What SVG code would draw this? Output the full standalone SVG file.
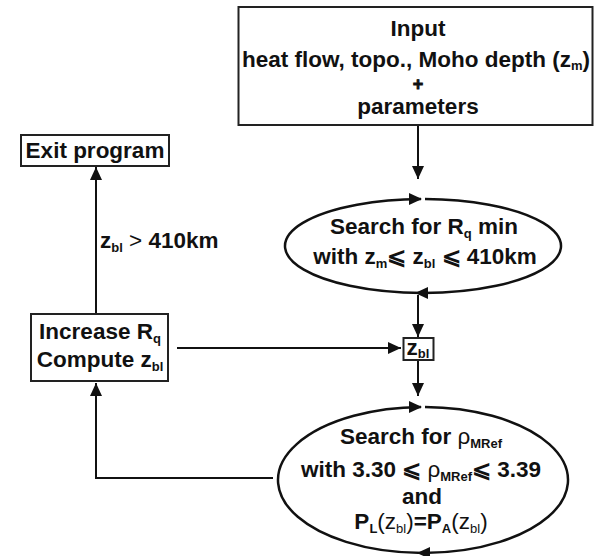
<svg xmlns="http://www.w3.org/2000/svg" width="600" height="556" viewBox="0 0 600 556">
<defs>
<style>
.t{font-family:"Liberation Sans",Arial,sans-serif;font-weight:bold;font-size:22.5px;fill:#111;text-anchor:middle}
.s{font-size:13px}
.n{font-weight:normal}
.box{fill:#fff;stroke:#222;stroke-width:2}
.ell{fill:none;stroke:#111;stroke-width:2.5}
.c{fill:none;stroke:#111;stroke-width:2}
.ah{fill:#111}
</style>
<marker id="arr" markerUnits="userSpaceOnUse" markerWidth="13" markerHeight="12" refX="13" refY="6" orient="auto">
<path d="M0,0 L13,6 L0,12 z" fill="#111"/>
</marker>
</defs>
<rect width="600" height="556" fill="#fff"/>

<g id="connectors">
<line class="c" x1="418" y1="125" x2="418" y2="179" marker-end="url(#arr)"/>
<line class="c" x1="418" y1="295" x2="418" y2="337" marker-end="url(#arr)"/>
<line class="c" x1="418" y1="361" x2="418" y2="396" marker-end="url(#arr)"/>
<line class="c" x1="177" y1="348" x2="401" y2="348" marker-end="url(#arr)"/>
<polyline class="c" points="273,478 96,478 96,383" marker-end="url(#arr)"/>
<line class="c" x1="96" y1="314" x2="96" y2="167" marker-end="url(#arr)"/>
<text class="t" x="100" y="248" style="text-anchor:start">z<tspan class="s" dy="4">bl</tspan><tspan class="n" dy="-4"> &gt; </tspan>410km</text>
</g>

<g id="input">
<rect class="box" x="238.5" y="7" width="354" height="118"/>
<text class="t" x="418" y="36">Input</text>
<text class="t" x="416" y="67">heat flow, topo., Moho depth (z<tspan class="s" dy="3">m</tspan><tspan dy="-3">)</tspan></text>
<text class="t" x="418" y="89.5" style="font-size:18px;stroke:#111;stroke-width:0.8">+</text>
<text class="t" x="418" y="114">parameters</text>
</g>

<g id="search-rq">
<path class="ell" d="M425,199 A138,47 0 1 1 421,199"/>
<polygon class="ah" points="409,193 422,199 409,205"/>
<polygon class="ah" points="428,287 415,293 428,299"/>
<text class="t" x="424" y="234">Search for R<tspan class="s" dy="4">q</tspan><tspan dy="-4"> min</tspan></text>
<text class="t" x="425" y="264">with z<tspan class="s" dy="4">m</tspan><tspan dy="-4">⩽ z</tspan><tspan class="s" dy="4">bl</tspan><tspan dy="-4"> ⩽ 410km</tspan></text>
</g>

<g id="zbl">
<rect class="box" x="403.5" y="338" width="30" height="22" stroke-width="1.5"/>
<text class="t" x="418" y="355">z<tspan class="s" dy="3">bl</tspan></text>
</g>

<g id="search-rho">
<path class="ell" d="M425,407 A145,73 0 1 1 421,407"/>
<polygon class="ah" points="409,401 422,407 409,413"/>
<polygon class="ah" points="430,547 417,553 430,559"/>
<text class="t" x="421" y="444">Search for <tspan class="n">ρ</tspan><tspan class="s" dy="4">MRef</tspan></text>
<text class="t" x="421" y="477">with 3.30 ⩽ <tspan class="n">ρ</tspan><tspan class="s" dy="4">MRef</tspan><tspan dy="-4">⩽ 3.39</tspan></text>
<text class="t" x="422" y="504">and</text>
<text class="t" x="421" y="529">P<tspan class="s" dy="4">L</tspan><tspan class="n" dy="-4">(z</tspan><tspan class="s n" dy="4">bl</tspan><tspan class="n" dy="-4">)</tspan>=P<tspan class="s" dy="4">A</tspan><tspan class="n" dy="-4">(z</tspan><tspan class="s n" dy="4">bl</tspan><tspan class="n" dy="-4">)</tspan></text>
</g>

<g id="increase">
<rect class="box" x="31" y="314" width="137" height="67"/>
<text class="t" x="100" y="339">Increase R<tspan class="s" dy="4">q</tspan></text>
<text class="t" x="100" y="367">Compute z<tspan class="s" dy="4">bl</tspan></text>
</g>

<g id="exit">
<rect class="box" x="21" y="135" width="148" height="31"/>
<text class="t" x="95" y="158">Exit program</text>
</g>
</svg>
